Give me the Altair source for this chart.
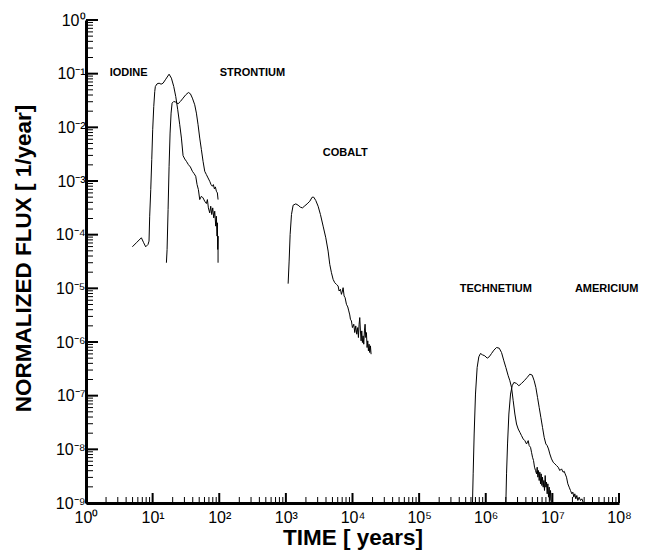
import altair as alt
import pandas as pd

W, H = 533, 483

# ---- curves as log10(time [years]) and log10(flux [1/year]) ----
iodine_log_t = [0.696, 0.756, 0.831, 0.866, 0.896, 0.931, 0.946, 0.956, 0.972, 0.987, 1.001, 1.017,
                1.032, 1.041, 1.066, 1.097, 1.127, 1.157, 1.197, 1.247, 1.282, 1.317, 1.347, 1.377,
                1.407, 1.432, 1.457, 1.482, 1.507, 1.537, 1.567, 1.597, 1.622, 1.647, 1.667, 1.687,
                1.707, 1.732, 1.757, 1.782, 1.807, 1.822, 1.837, 1.857, 1.872, 1.887, 1.902, 1.917,
                1.932, 1.947, 1.957, 1.967, 1.972, 1.977, 1.982, 1.982]
iodine_log_f = [-4.226, -4.151, -4.058, -4.151, -4.226, -4.182, -4.120, -3.656, -3.160, -2.602, -2.045,
                -1.611, -1.332, -1.239, -1.190, -1.177, -1.196, -1.177, -1.103, -1.010, -1.084, -1.239,
                -1.425, -1.673, -1.952, -2.200, -2.528, -2.590, -2.633, -2.695, -2.739, -2.819, -2.862,
                -2.912, -3.067, -3.160, -3.346, -3.284, -3.315, -3.377, -3.420, -3.346, -3.501, -3.594,
                -3.470, -3.625, -3.501, -3.687, -3.563, -3.841, -3.656, -4.027, -3.779, -4.275, -4.027,
                -4.523]

strontium_log_t = [1.207, 1.217, 1.232, 1.247, 1.262, 1.277, 1.292, 1.317, 1.347, 1.382, 1.417, 1.457,
                   1.497, 1.537, 1.567, 1.597, 1.632, 1.657, 1.682, 1.707, 1.732, 1.757, 1.782, 1.807,
                   1.832, 1.857, 1.877, 1.897, 1.912, 1.927, 1.942, 1.957, 1.972, 1.982]
strontium_log_f = [-4.523, -4.275, -3.532, -2.726, -2.107, -1.735, -1.549, -1.518, -1.530, -1.561,
                   -1.518, -1.456, -1.394, -1.351, -1.375, -1.456, -1.580, -1.735, -1.952, -2.200,
                   -2.416, -2.633, -2.819, -2.881, -2.943, -3.005, -3.067, -3.098, -3.067, -3.147,
                   -3.110, -3.191, -3.222, -3.346]

cobalt_log_t = [3.034, 3.049, 3.064, 3.084, 3.109, 3.149, 3.184, 3.219, 3.249, 3.284, 3.319, 3.359,
                3.394, 3.419, 3.449, 3.484, 3.519, 3.559, 3.599, 3.634, 3.659, 3.684, 3.709, 3.734,
                3.759, 3.784, 3.799, 3.819, 3.834, 3.849, 3.859, 3.874, 3.889, 3.909, 3.929, 3.944,
                3.959, 3.969, 3.984, 3.999, 4.019, 4.034, 4.049, 4.064, 4.079, 4.089, 4.099, 4.109,
                4.119, 4.129, 4.139, 4.149, 4.159, 4.169, 4.179, 4.189, 4.199, 4.209, 4.219, 4.229,
                4.239, 4.249, 4.259, 4.269, 4.279]
cobalt_log_f = [-4.913, -4.492, -3.996, -3.625, -3.451, -3.426, -3.451, -3.488, -3.501, -3.463, -3.426,
                -3.377, -3.302, -3.302, -3.364, -3.470, -3.625, -3.841, -4.058, -4.306, -4.554, -4.709,
                -4.833, -4.895, -4.926, -4.957, -5.050, -5.019, -5.112, -5.050, -4.988, -5.143, -5.174,
                -5.297, -5.347, -5.421, -5.496, -5.576, -5.607, -5.731, -5.669, -5.824, -5.700, -5.855,
                -5.731, -5.917, -5.669, -5.545, -5.793, -5.979, -5.793, -6.010, -5.886, -6.041, -5.793,
                -5.669, -5.917, -5.824, -6.103, -5.979, -6.165, -6.041, -6.196, -6.072, -6.227]

technetium_log_t = [5.801, 5.811, 5.826, 5.846, 5.871, 5.896, 5.921, 5.951, 5.986, 6.022, 6.052, 6.087,
                    6.122, 6.162, 6.202, 6.237, 6.272, 6.302, 6.337, 6.362, 6.387, 6.412, 6.437, 6.462,
                    6.487, 6.512, 6.537, 6.562, 6.587, 6.612, 6.637, 6.652, 6.672, 6.687, 6.702, 6.717,
                    6.732, 6.747, 6.762, 6.772, 6.782, 6.792, 6.802, 6.812, 6.822, 6.832, 6.842, 6.852,
                    6.862, 6.872, 6.882, 6.892, 6.902, 6.912, 6.922, 6.932, 6.942, 6.952, 6.962, 6.972,
                    6.982]
technetium_log_f = [-9.0, -8.457, -7.714, -6.970, -6.475, -6.276, -6.214, -6.239, -6.258, -6.301, -6.276,
                    -6.214, -6.152, -6.103, -6.115, -6.196, -6.351, -6.475, -6.629, -6.722, -6.846, -7.094,
                    -7.342, -7.528, -7.621, -7.683, -7.745, -7.807, -7.838, -7.900, -7.838, -7.931, -7.962,
                    -8.055, -8.147, -8.209, -8.333, -8.395, -8.457, -8.333, -8.519, -8.395, -8.581, -8.426,
                    -8.643, -8.457, -8.674, -8.519, -8.705, -8.581, -8.767, -8.488, -8.705, -8.612, -8.829,
                    -8.643, -8.891, -8.705, -8.953, -8.767, -8.984]

americium_log_t = [6.302, 6.312, 6.327, 6.347, 6.372, 6.397, 6.422, 6.462, 6.497, 6.537, 6.577, 6.622,
                   6.662, 6.697, 6.727, 6.752, 6.777, 6.802, 6.827, 6.852, 6.877, 6.902, 6.922, 6.942,
                   6.962, 6.987, 7.012, 7.037, 7.062, 7.087, 7.112, 7.137, 7.162, 7.177, 7.192, 7.212,
                   7.232, 7.252, 7.272, 7.292, 7.307, 7.322, 7.337, 7.352, 7.367, 7.382, 7.402, 7.422,
                   7.442, 7.462]
americium_log_f = [-9.0, -8.457, -7.900, -7.342, -6.970, -6.815, -6.753, -6.772, -6.815, -6.772, -6.722,
                   -6.660, -6.599, -6.617, -6.722, -6.846, -7.032, -7.218, -7.404, -7.590, -7.776, -7.900,
                   -7.931, -7.993, -8.086, -8.178, -8.240, -8.271, -8.302, -8.333, -8.395, -8.364, -8.426,
                   -8.408, -8.457, -8.519, -8.643, -8.705, -8.767, -8.829, -8.798, -8.891, -8.829, -8.922,
                   -8.860, -8.953, -8.891, -8.953, -8.922, -8.984]

# ---- annotation labels ----
label_text = ["IODINE", "STRONTIUM", "COBALT", "TECHNETIUM", "AMERICIUM"]
label_time = [2.27, 101.8, 3580.0, 4.08e5, 2.18e7]
label_flux = [0.1035, 0.1035, 3.37e-3, 9.57e-6, 9.57e-6]

# ---- axis tick values ----
x_major = [10.0 ** k for k in range(0, 9)]
x_minor = [m * 10.0 ** k for k in range(0, 8) for m in range(2, 10)]
y_major = [10.0 ** k for k in range(-9, 1)]
y_minor = [m * 10.0 ** k for k in range(-9, 0) for m in range(2, 10)]
x_labels = ["10⁰", "10¹", "10²", "10³", "10⁴", "10⁵", "10⁶", "10⁷", "10⁸"]
y_labels = ["10⁰", "10⁻¹", "10⁻²", "10⁻³", "10⁻⁴", "10⁻⁵", "10⁻⁶", "10⁻⁷", "10⁻⁸", "10⁻⁹"]

series = [
    ("Iodine", iodine_log_t, iodine_log_f),
    ("Strontium", strontium_log_t, strontium_log_f),
    ("Cobalt", cobalt_log_t, cobalt_log_f),
    ("Technetium", technetium_log_t, technetium_log_f),
    ("Americium", americium_log_t, americium_log_f),
]
frames = []
for name, lt, lf in series:
    frames.append(pd.DataFrame({
        "series": name,
        "t": [10.0 ** v for v in lt],
        "f": [10.0 ** v for v in lf],
        "idx": list(range(len(lt))),
    }))
df = pd.concat(frames, ignore_index=True)

labels_df = pd.DataFrame({"text": label_text, "t": label_time, "f": label_flux})
xmaj_df = pd.DataFrame({"t": x_major})
xmin_df = pd.DataFrame({"t": x_minor})
ymaj_df = pd.DataFrame({"f": y_major})
ymin_df = pd.DataFrame({"f": y_minor})

FONT = "Liberation Sans"
xscale = alt.Scale(type="log", domain=[1, 1e8], nice=False)
yscale = alt.Scale(type="log", domain=[1e-9, 1], nice=False)

x_expr = "[" + ",".join("'%s'" % s for s in x_labels) + "][round(log(datum.value)/LN10)]"
y_expr = "[" + ",".join("'%s'" % s for s in y_labels) + "][round(-log(datum.value)/LN10)]"

x_axis = alt.Axis(
    values=x_major, labelExpr=x_expr, grid=False, ticks=False,
    domainColor="black", domainWidth=3,
    labelFont=FONT, labelFontSize=16, labelColor="black", labelPadding=6,
    labelOverlap=False, labelFlush=False,
    title="TIME [ years]", titleFont=FONT, titleFontSize=22.5, titleFontWeight="bold",
    titleColor="black", titleY=41, titleBaseline="alphabetic",
)
y_axis = alt.Axis(
    values=y_major, labelExpr=y_expr, grid=False, ticks=False,
    domainColor="black", domainWidth=3,
    labelFont=FONT, labelFontSize=16, labelColor="black", labelPadding=1,
    labelOverlap=False, labelFlush=False,
    title="NORMALIZED FLUX [ 1/year]", titleFont=FONT, titleFontSize=22.5, titleFontWeight="bold",
    titleColor="black", titleAngle=270, titleX=-56, titleY=238,
    titleAlign="center", titleBaseline="alphabetic",
)

X = alt.X("t:Q", scale=xscale, axis=x_axis)
Y = alt.Y("f:Q", scale=yscale, axis=y_axis)

lines = alt.Chart(df).mark_line(color="black", strokeWidth=1, clip=True).encode(
    x=X, y=Y, detail="series:N", order="idx:Q",
)

xmaj = alt.Chart(xmaj_df).mark_rule(color="black", strokeWidth=2).encode(
    x=X, y=alt.value(H), y2=alt.value(H - 10))
xmin = alt.Chart(xmin_df).mark_rule(color="black", strokeWidth=1).encode(
    x=X, y=alt.value(H), y2=alt.value(H - 6))
ymaj = alt.Chart(ymaj_df).mark_rule(color="black", strokeWidth=2).encode(
    y=Y, x=alt.value(0), x2=alt.value(12))
ymin = alt.Chart(ymin_df).mark_rule(color="black", strokeWidth=1).encode(
    y=Y, x=alt.value(0), x2=alt.value(7))

texts = alt.Chart(labels_df).mark_text(
    align="left", baseline="middle", font=FONT, fontSize=11, fontWeight="bold", color="black"
).encode(x=X, y=Y, text="text:N")

chart = alt.layer(lines, xmin, xmaj, ymin, ymaj, texts).properties(
    width=W, height=H,
    padding={"left": 86, "top": 20, "right": 29, "bottom": 53},
    autosize=alt.AutoSizeParams(type="none"),
    background="white",
).configure_view(stroke=None)

chart.save("out.html", embed_options={"renderer": "svg", "actions": False})
